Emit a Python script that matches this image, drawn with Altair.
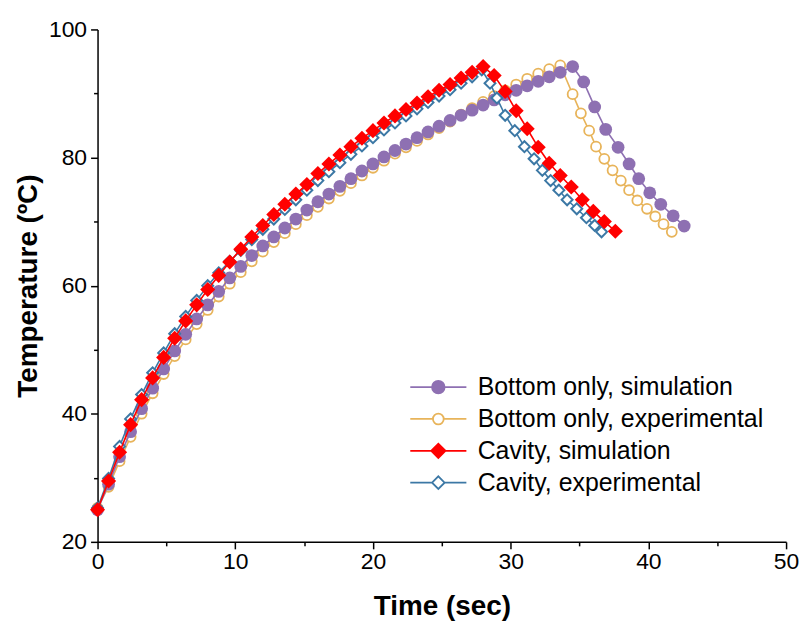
import altair as alt
import pandas as pd

series_names = ["Bottom only, simulation", "Bottom only, experimental",
                "Cavity, simulation", "Cavity, experimental"]

bottom_sim_time = [0, 0.8, 1.6, 2.4, 3.2, 4.0, 4.8, 5.6, 6.4, 7.2, 8.0, 8.8, 9.6, 10.4, 11.2,
                   12.0, 12.8, 13.6, 14.4, 15.2, 16.0, 16.8, 17.6, 18.4, 19.2, 20.0, 20.8, 21.6,
                   22.4, 23.2, 24.0, 24.8, 25.6, 26.4, 27.2, 28.0, 28.8, 29.6, 30.4, 31.2, 32.0,
                   32.8, 33.6, 34.5, 35.3, 36.1, 36.9, 37.8, 38.6, 39.3, 40.1, 40.9, 41.8, 42.6]
bottom_sim_temp = [25.0, 29.0, 33.3, 37.2, 40.8, 44.0, 47.0, 49.8, 52.4, 54.8, 57.0, 59.1, 61.2,
                   63.0, 64.7, 66.2, 67.6, 69.0, 70.4, 71.8, 73.1, 74.3, 75.5, 76.7, 77.9, 79.0,
                   80.1, 81.1, 82.1, 83.1, 84.0, 84.9, 85.8, 86.6, 87.4, 88.2, 89.0, 89.8, 90.5,
                   91.2, 91.9, 92.6, 93.3, 94.2, 91.8, 87.9, 84.4, 81.6, 79.0, 76.7, 74.5, 72.7,
                   70.9, 69.3]

bottom_exp_time = [0, 0.8, 1.6, 2.4, 3.2, 4.0, 4.8, 5.6, 6.4, 7.2, 8.0, 8.8, 9.6, 10.4, 11.2,
                   12.0, 12.8, 13.6, 14.4, 15.2, 16.0, 16.8, 17.6, 18.4, 19.2, 20.0, 20.8, 21.6,
                   22.4, 23.2, 24.0, 24.8, 25.6, 26.4, 27.2, 28.0, 28.8, 29.6, 30.4, 31.2, 32.0,
                   32.8, 33.6, 34.5, 35.1, 35.7, 36.2, 36.8, 37.4, 38.0, 38.6, 39.2, 39.9, 40.5,
                   41.1, 41.7]
bottom_exp_temp = [25.3, 28.6, 32.6, 36.4, 40.0, 43.2, 46.2, 49.0, 51.6, 54.0, 56.2, 58.3, 60.3,
                   62.1, 63.8, 65.3, 66.8, 68.2, 69.6, 71.0, 72.3, 73.6, 74.8, 76.0, 77.2, 78.4,
                   79.5, 80.6, 81.6, 82.6, 83.6, 84.6, 85.6, 86.7, 87.7, 88.7, 89.6, 90.5, 91.4,
                   92.3, 93.1, 93.8, 94.4, 89.9, 86.9, 84.2, 81.7, 79.8, 78.0, 76.4, 74.9, 73.3,
                   72.0, 70.8, 69.6, 68.4]

cavity_sim_time = [0, 0.8, 1.6, 2.4, 3.2, 4.0, 4.8, 5.6, 6.4, 7.2, 8.0, 8.8, 9.6, 10.4, 11.2,
                   12.0, 12.8, 13.6, 14.4, 15.2, 16.0, 16.8, 17.6, 18.4, 19.2, 20.0, 20.8, 21.6,
                   22.4, 23.2, 24.0, 24.8, 25.6, 26.4, 27.2, 28.0, 28.8, 29.6, 30.4, 31.2, 32.0,
                   32.8, 33.6, 34.4, 35.2, 36.0, 36.8, 37.6]
cavity_sim_temp = [25.0, 29.5, 34.0, 38.3, 42.2, 45.6, 48.8, 51.8, 54.5, 57.0, 59.4, 61.6, 63.7,
                   65.7, 67.6, 69.4, 71.1, 72.7, 74.3, 75.8, 77.5, 79.0, 80.4, 81.7, 83.0, 84.2,
                   85.4, 86.5, 87.5, 88.5, 89.5, 90.5, 91.4, 92.4, 93.3, 94.2, 92.8, 90.3, 87.3,
                   84.5, 81.6, 79.1, 77.2, 75.4, 73.4, 71.6, 70.0, 68.5]

cavity_exp_time = [0, 0.8, 1.6, 2.4, 3.2, 4.0, 4.8, 5.6, 6.4, 7.2, 8.0, 8.8, 9.6, 10.4, 11.2,
                   12.0, 12.8, 13.6, 14.4, 15.2, 16.0, 16.8, 17.6, 18.4, 19.2, 20.0, 20.8, 21.6,
                   22.4, 23.2, 24.0, 24.8, 25.6, 26.4, 27.2, 27.9, 28.5, 29.0, 29.6, 30.3, 31.0,
                   31.7, 32.3, 32.9, 33.5, 34.1, 34.8, 35.5, 36.1, 36.6]
cavity_exp_temp = [25.3, 29.9, 34.9, 39.2, 43.0, 46.4, 49.5, 52.5, 55.2, 57.7, 60.0, 62.0, 63.8,
                   65.5, 67.2, 68.8, 70.4, 71.9, 73.4, 74.9, 76.4, 77.8, 79.2, 80.5, 81.8, 83.1,
                   84.3, 85.4, 86.5, 87.6, 88.6, 89.6, 90.6, 91.6, 92.6, 93.7, 91.6, 89.3, 86.6,
                   84.2, 81.7, 79.8, 78.0, 76.4, 74.9, 73.4, 72.0, 70.6, 69.4, 68.4]

x_ticks = [0, 5, 10, 15, 20, 25, 30, 35, 40, 45, 50]
y_ticks = [20, 30, 40, 50, 60, 70, 80, 90, 100]

PURPLE = "#8E70B2"
ORANGE = "#E8B45A"
RED = "#FF0000"
BLUE = "#3C78A5"

rows = []
for name, ts, vs in [(series_names[0], bottom_sim_time, bottom_sim_temp),
                     (series_names[1], bottom_exp_time, bottom_exp_temp),
                     (series_names[2], cavity_sim_time, cavity_sim_temp),
                     (series_names[3], cavity_exp_time, cavity_exp_temp)]:
    assert len(ts) == len(vs), name
    for t, v in zip(ts, vs):
        rows.append({"series": name, "time": t, "temp": v})
df = pd.DataFrame(rows)

FONT = "Liberation Sans"

xscale = alt.Scale(domain=[0, 50], nice=False, zero=False)
yscale = alt.Scale(domain=[20, 100], nice=False, zero=False)

xaxis = alt.Axis(values=x_ticks, title="Time (sec)",
                 labelExpr="datum.value % 10 === 0 ? datum.label : ''",
                 tickSize={"condition": {"test": "datum.value % 10 === 0", "value": 7}, "value": 4},
                 grid=False, domainColor="black", tickColor="black", domainWidth=1.5, tickWidth=1.5,
                 labelFont=FONT, labelFontSize=23, labelColor="black", labelPadding=2,
                 titleFont=FONT, titleFontSize=28, titleFontWeight="bold", titleColor="black",
                 titlePadding=19, labelFlush=False)
yaxis = alt.Axis(values=y_ticks, title="Temperature (ºC)",
                 labelExpr="datum.value % 20 === 0 ? datum.label : ''",
                 tickSize={"condition": {"test": "datum.value % 20 === 0", "value": 7}, "value": 4},
                 grid=False, domainColor="black", tickColor="black", domainWidth=1.5, tickWidth=1.5,
                 labelFont=FONT, labelFontSize=23, labelColor="black", labelPadding=4,
                 titleFont=FONT, titleFontSize=28, titleFontWeight="bold", titleColor="black",
                 titlePadding=6, labelFlush=False)

base = alt.Chart(df).encode(
    x=alt.X("time:Q", scale=xscale, axis=xaxis),
    y=alt.Y("temp:Q", scale=yscale, axis=yaxis),
)

def sel(name):
    return base.transform_filter(alt.datum.series == name)

orange_line = sel(series_names[1]).mark_line(color=ORANGE, strokeWidth=1.6)
orange_pts = sel(series_names[1]).mark_point(shape="circle", filled=True, fill="white",
                                             stroke=ORANGE, strokeWidth=1.8, size=100, opacity=1)
purple_line = sel(series_names[0]).mark_line(color=PURPLE, strokeWidth=1.6)
purple_pts = sel(series_names[0]).mark_point(shape="circle", filled=True, color=PURPLE,
                                             size=165, opacity=1)
blue_line = sel(series_names[3]).mark_line(color=BLUE, strokeWidth=1.6)
blue_pts = sel(series_names[3]).mark_point(shape="diamond", filled=True, fill="white",
                                           stroke=BLUE, strokeWidth=2, size=120, opacity=1)
red_line = sel(series_names[2]).mark_line(color=RED, strokeWidth=1.6)
red_pts = sel(series_names[2]).mark_point(shape="diamond", filled=True, color=RED,
                                          size=230, opacity=1)

legend_paths = [
    "M-4.7,0L-1.05,0M1.05,0L4.7,0M-1.05,0A1.05,1.05 0 1,1 1.05,0A1.05,1.05 0 1,1 -1.05,0Z",
    "M-4.7,0L-0.9,0M0.9,0L4.7,0M-0.9,0A0.9,0.9 0 1,1 0.9,0A0.9,0.9 0 1,1 -0.9,0Z",
    "M-4.7,0L-1.2,0M1.2,0L4.7,0M-1.2,0L0,-1.2L1.2,0L0,1.2Z",
    "M-4.7,0L-1.05,0M1.05,0L4.7,0M-1.05,0L0,-1.05L1.05,0L0,1.05Z",
]
leg = alt.Legend(orient="none", legendX=330, legendY=347, title=None, padding=0,
                 symbolSize=144, symbolStrokeWidth=1.8, symbolOpacity=1,
                 labelFont=FONT, labelFontSize=25, labelColor="black", labelOffset=27,
                 rowPadding=6, labelLimit=500)
legend_df = pd.DataFrame({"series": series_names})
legend_layer = alt.Chart(legend_df).mark_point(filled=True, opacity=0).encode(
    shape=alt.Shape("series:N", scale=alt.Scale(domain=series_names, range=legend_paths), legend=leg),
    fill=alt.Fill("series:N", scale=alt.Scale(domain=series_names, range=[PURPLE, "white", RED, "white"]), legend=leg),
    stroke=alt.Stroke("series:N", scale=alt.Scale(domain=series_names, range=[PURPLE, ORANGE, RED, BLUE]), legend=leg),
)

chart = alt.layer(
    orange_line, orange_pts, purple_line, purple_pts,
    blue_line, blue_pts, red_line, red_pts, legend_layer
).properties(
    width=692, height=515,
    padding={"left": 90, "top": 20, "right": 15, "bottom": 79},
    autosize=alt.AutoSizeParams(type="none"),
    background="white",
).configure_view(stroke=None)

chart.save("out.html", embed_options={"renderer": "svg", "actions": False})
